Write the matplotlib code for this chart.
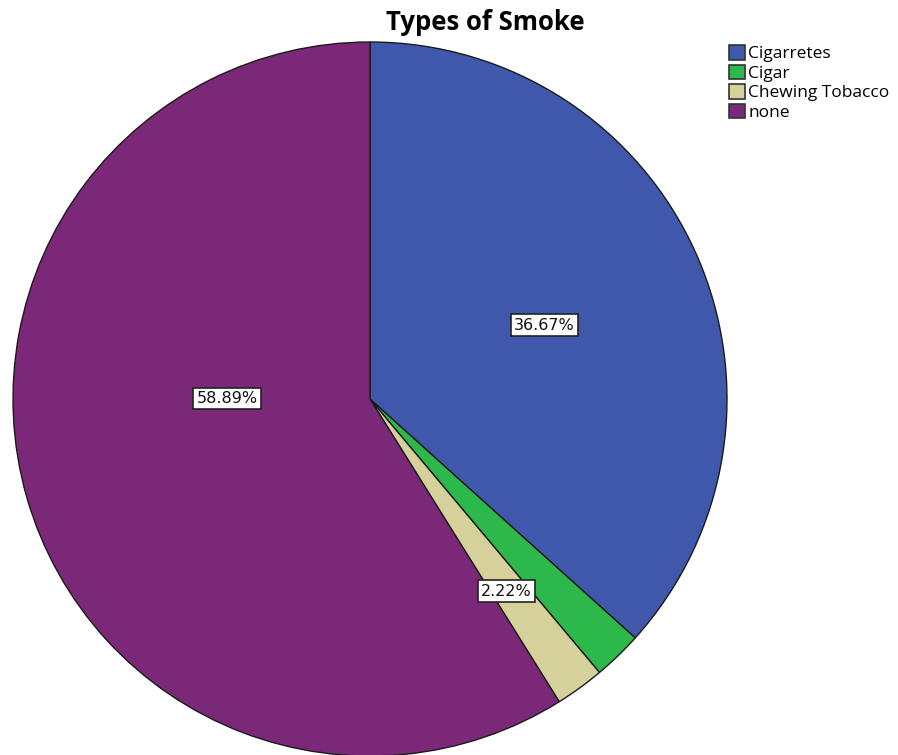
import matplotlib
matplotlib.use("Agg")
import matplotlib.pyplot as plt
import numpy as np

categories = ["Cigarretes", "Cigar", "Chewing Tobacco", "none"]
percents = [36.67, 2.22, 2.22, 58.89]
colors = ["#3F58AB", "#2DB84C", "#D6D09B", "#7B2879"]
shown_labels = [True, False, True, True]
# label placement (radius fraction, angle offset in degrees from wedge middle)
label_r = [0.53, 0.6, 0.66, 0.40]
label_dang = [-1.0, 0.0, -0.6, -16.3]

W, H = 898, 755
fig = plt.figure(figsize=(W / 100, H / 100), dpi=100)
R = 357
cx, cy = 370, 399
ax = fig.add_axes([(cx - R) / W, (H - cy - R) / H, 2 * R / W, 2 * R / H])

wedges, _ = ax.pie(percents, colors=colors, startangle=90, counterclock=False,
                   radius=1.0, wedgeprops=dict(edgecolor="#1a1a1a", linewidth=1.0))
ax.set_xlim(-1, 1)
ax.set_ylim(-1, 1)
ax.set_aspect("equal")
ax.axis("off")
for w, show, r, da, p in zip(wedges, shown_labels, label_r, label_dang, percents):
    if not show:
        continue
    ang = np.deg2rad((w.theta1 + w.theta2) / 2 + da)
    ax.text(r * np.cos(ang), r * np.sin(ang), f"{p:.2f}%", ha="center", va="center",
            fontsize=11.5, family="DejaVu Sans", color="#111111",
            bbox=dict(boxstyle="square,pad=0.2", fc="white", ec="#222222", lw=1.2))

fig.text(485 / W, 1 - 22 / H, "Types of Smoke", ha="center", va="center",
         fontsize=18.5, fontweight="bold", family="Open Sans")

leg = fig.legend(wedges, categories, loc="upper left", bbox_to_anchor=(729 / W, 1 - 45 / H),
                 frameon=False, handlelength=0.92, handleheight=0.92, handletextpad=0.2,
                 labelspacing=0.13, borderpad=0, borderaxespad=0,
                 prop=dict(family="Open Sans", size=12.5))
for h in leg.legend_handles:
    h.set_edgecolor("#333333")
    h.set_linewidth(1.2)

fig.savefig("out.png", dpi=100)
